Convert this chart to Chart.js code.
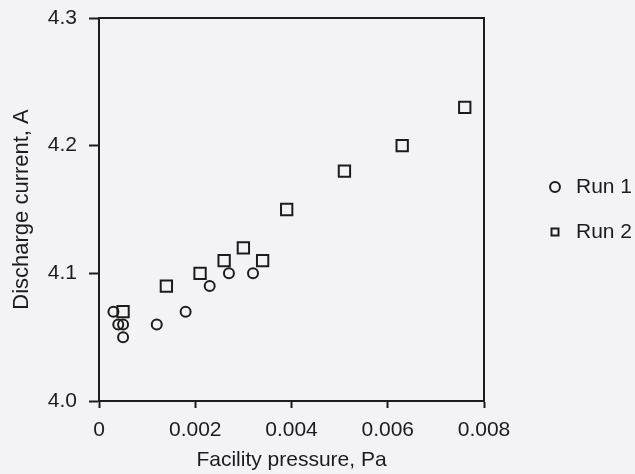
<!DOCTYPE html>
<html>
<head>
<meta charset="utf-8">
<script src="https://cdn.jsdelivr.net/npm/chart.js@4.4.1/dist/chart.umd.min.js"></script>
<style>
  html, body { margin: 0; padding: 0; background: #f3f3f5; }
  canvas { display: block; }
</style>
</head>
<body>
<canvas id="chart" width="635" height="474"></canvas>
<script>
// values
var run1X = [0.0003, 0.0004, 0.0005, 0.0005, 0.0012, 0.0018, 0.0023, 0.0027, 0.0032];
var run1Y = [4.07, 4.06, 4.06, 4.05, 4.06, 4.07, 4.09, 4.10, 4.10];
var run2X = [0.0005, 0.0014, 0.0021, 0.0026, 0.0030, 0.0034, 0.0039, 0.0051, 0.0063, 0.0076];
var run2Y = [4.07, 4.09, 4.10, 4.11, 4.12, 4.11, 4.15, 4.18, 4.20, 4.23];

var xTicks = [0, 0.002, 0.004, 0.006, 0.008];
var xTickLabels = ['0', '0.002', '0.004', '0.006', '0.008'];
var yTicks = [4.0, 4.1, 4.2, 4.3];
var yTickLabels = ['4.0', '4.1', '4.2', '4.3'];

function pairs(xs, ys) {
  return xs.map(function(x, i) { return { x: x, y: ys[i] }; });
}

var ink = '#1c1c1c';
Chart.defaults.font.family = '"Liberation Sans", Arial, sans-serif';
Chart.defaults.font.size = 21;
Chart.defaults.color = ink;

// push the legend further right of the plot frame (and widen its clip box)
var legendShift = {
  id: 'legendShift',
  afterLayout: function(chart) {
    var l = chart.legend;
    l.left += 36.5;
    l.right = chart.width;
    l.width = l.right - l.left;
  }
};

// plain frame line with no ticks, used for top and right edges
function frameAxis(pos, min, max) {
  return {
    type: 'linear', position: pos, min: min, max: max,
    ticks: { display: false },
    grid: { display: false, drawTicks: false },
    border: { display: true, color: ink, width: 2 },
    afterFit: function(s) {
      if (pos === 'top') s.height = 0; else s.width = 0;
    }
  };
}

var ctx = document.getElementById('chart').getContext('2d');
var mychart = new Chart(ctx, {
  type: 'scatter',
  data: {
    datasets: [{
      label: 'Run 1',
      data: pairs(run1X, run1Y),
      pointStyle: 'circle',
      pointRadius: 5,
      borderWidth: 2,
      borderColor: ink,
      backgroundColor: 'rgba(0,0,0,0)'
    }, {
      label: 'Run 2',
      data: pairs(run2X, run2Y),
      pointStyle: 'rect',
      pointRadius: 8,
      borderWidth: 2,
      borderColor: ink,
      backgroundColor: 'rgba(0,0,0,0)'
    }]
  },
  options: {
    responsive: false,
    animation: false,
    events: [],
    layout: { padding: 0 },
    plugins: {
      tooltip: { enabled: false },
      legend: {
        position: 'right',
        fullSize: false,
        align: 'center',
        labels: {
          usePointStyle: true,
          boxHeight: 7,
          padding: 24,
          color: ink,
          font: { size: 21 }
        }
      }
    },
    scales: {
      x: {
        type: 'linear', position: 'bottom', min: 0, max: 0.008,
        afterBuildTicks: function(s) {
          s.ticks = xTicks.map(function(v) { return { value: v }; });
        },
        afterFit: function(s) { s.height = 73; s.paddingRight = 151; },
        grid: { display: true, drawOnChartArea: false, drawTicks: true, tickLength: 7, tickWidth: 2, color: ink, tickColor: ink },
        border: { display: true, color: ink, width: 2 },
        ticks: {
          padding: 10, maxRotation: 0, autoSkip: false,
          callback: function(v, i) { return xTickLabels[i]; }
        },
        title: { display: true, text: 'Facility pressure, Pa', padding: { top: 0, bottom: 1 } }
      },
      y: {
        type: 'linear', position: 'left', min: 4.0, max: 4.3,
        afterBuildTicks: function(s) {
          s.ticks = yTicks.map(function(v) { return { value: v }; });
        },
        afterFit: function(s) { s.width = 99; s.paddingTop = 18; s.paddingBottom = 0; },
        grid: { display: true, drawOnChartArea: false, drawTicks: true, tickLength: 10, tickWidth: 2, color: ink, tickColor: ink },
        border: { display: true, color: ink, width: 2 },
        ticks: {
          padding: 12,
          callback: function(v, i) { return yTickLabels[i]; }
        },
        title: { display: true, text: 'Discharge current, A', font: { size: 22 }, padding: { top: 9, bottom: 0 } }
      },
      xTop: frameAxis('top', 0, 0.008),
      yRight: frameAxis('right', 4.0, 4.3)
    }
  },
  plugins: [legendShift]
});
</script>
</body>
</html>
